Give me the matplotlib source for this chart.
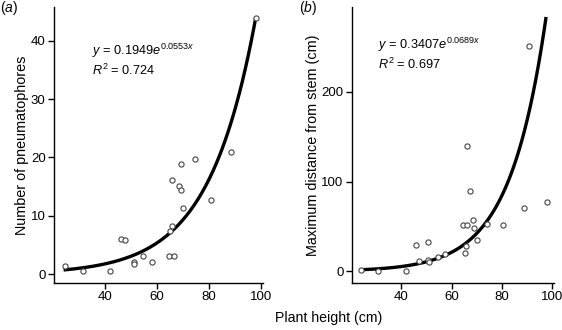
import matplotlib
matplotlib.use("Agg")
import matplotlib.pyplot as plt
import numpy as np

plt.rcParams['font.family'] = ['Liberation Sans', 'DejaVu Sans']
plt.rcParams['mathtext.fontset'] = 'custom'
plt.rcParams['mathtext.rm'] = 'Liberation Sans'
plt.rcParams['mathtext.it'] = 'Liberation Sans:italic'

# panel (a): number of pneumatophores vs plant height
height_a = [24.4, 31.5, 42.0, 46.2, 47.6, 51.1, 51.2, 54.4, 58.2, 64.7, 66.5,
            64.8, 65.9, 65.6, 68.5, 69.3, 69.2, 69.9, 74.5, 80.6, 88.6, 98.0]
pneum = [1.4, 0.6, 0.6, 6.0, 5.9, 2.1, 1.7, 3.1, 2.1, 3.1, 3.2,
         7.4, 8.3, 16.1, 15.1, 14.4, 18.8, 11.4, 19.8, 12.7, 21.0, 43.8]
fit_a = (0.1949, 0.0553)
range_a = (24, 98)

# panel (b): maximum distance from stem vs plant height
height_b = [23.8, 30.6, 42.0, 46.0, 47.1, 50.5, 50.7, 51.1, 54.4, 57.3, 64.6,
            66.1, 65.5, 65.9, 66.3, 67.4, 68.7, 69.1, 70.2, 73.9, 80.6, 88.8,
            90.8, 97.9]
dist = [1.5, 0.5, 0.5, 29, 12, 32.5, 13, 10, 15.5, 19.8, 51.5,
        51.5, 21, 28, 140, 90, 57, 48, 35, 53, 51.5, 71,
        251, 77.6]
fit_b = (0.3407, 0.0689)
range_b = (24, 97.6)

fig = plt.figure(figsize=(5.62, 3.30), dpi=100)
ax1 = fig.add_axes([0.0961, 0.1424, 0.372, 0.837])
ax2 = fig.add_axes([0.626, 0.1424, 0.36, 0.837])


def panel(ax, x, y, fit, xr, eq, r2, tx, ty, ylim, yticks, ylabel, tag):
    xs = np.linspace(xr[0], xr[1], 200)
    ax.plot(xs, fit[0] * np.exp(fit[1] * xs), color='black', lw=2.4,
            solid_capstyle='butt', zorder=2)
    ax.scatter(x, y, s=14, facecolors='white', edgecolors='#444444',
               linewidths=0.8, zorder=3)
    ax.set_xlim(20.3, 100.8)
    ax.set_ylim(*ylim)
    ax.set_xticks([40, 60, 80, 100])
    ax.set_yticks(yticks)
    for s in ['top', 'right']:
        ax.spines[s].set_visible(False)
    for s in ['left', 'bottom']:
        ax.spines[s].set_linewidth(1.0)
    ax.tick_params(direction='out', length=4, width=1.0, labelsize=9.5,
                   pad=2)
    ax.set_ylabel(ylabel, fontsize=10.4, labelpad=1)
    ax.text(tx, ty, eq, transform=ax.transAxes, fontsize=9.2, va='center')
    ax.text(tx, ty - 0.072, r2, transform=ax.transAxes, fontsize=9.2,
            va='center')
    ax.text(-0.26, 0.995, tag, transform=ax.transAxes, fontsize=10,
            va='center')


panel(ax1, height_a, pneum, fit_a, range_a,
      r'$y$ = 0.1949$e^{0.0553x}$', r'$R^{2}$ = 0.724', 0.18, 0.84,
      (-1.5, 45.8), [0, 10, 20, 30, 40], 'Number of pneumatophores',
      r'($\it{a}$)')
panel(ax2, height_b, dist, fit_b, range_b,
      r'$y$ = 0.3407$e^{0.0689x}$', r'$R^{2}$ = 0.697', 0.13, 0.862,
      (-13, 295), [0, 100, 200], 'Maximum distance from stem (cm)',
      r'($\it{b}$)')

fig.text(0.584, 0.035, 'Plant height (cm)', ha='center', va='center',
         fontsize=10.2)

fig.savefig('out.png', dpi=100)
